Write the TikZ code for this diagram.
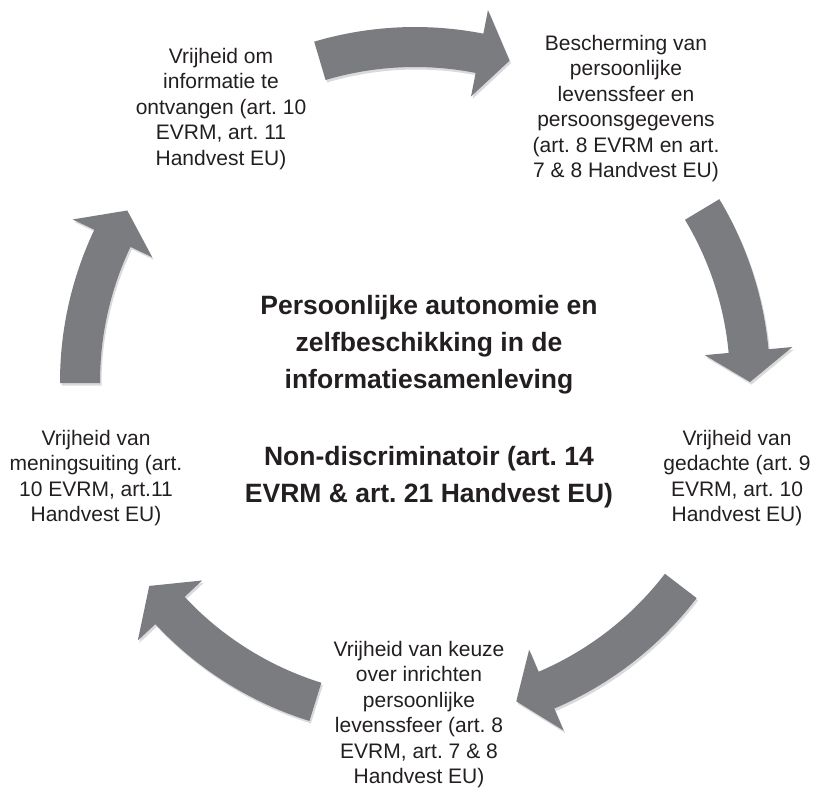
\documentclass[tikz,border=0pt]{standalone}
\usepackage{fontspec}
\setmainfont{Liberation Sans}
\frenchspacing
\definecolor{arrowgray}{RGB}{123,124,128}
\definecolor{shadowgray}{RGB}{218,218,220}
\definecolor{txt}{RGB}{35,31,32}
\newcommand{\cycarrowshape}[3]{(#1:355) arc[start angle=#1, end angle=#2, radius=355] -- (#2:379) -- (#3:335) -- (#2:291) -- (#2:315) arc[start angle=#2, end angle=#1, radius=315] -- cycle}
\newcommand{\cycarrow}[3]{%
  \fill[shadowgray, shift={(416.5,-384.5)}] \cycarrowshape{#1}{#2}{#3};
  \fill[arrowgray, shift={(415,-382)}] \cycarrowshape{#1}{#2}{#3};}
\begin{document}
\begin{tikzpicture}[x=1pt,y=1pt,
  lbl/.style={align=center, inner sep=0pt, anchor=base, text=txt, font=\fontsize{21}{25.5}\selectfont\frenchspacing},
  ttl/.style={align=center, inner sep=0pt, anchor=base, text=txt, font=\fontsize{26.5}{37}\selectfont\bfseries\frenchspacing}]
\useasboundingbox (0,0) rectangle (813,-788);
% arrows
\cycarrow{106.5}{78.9}{73.6}
\cycarrow{31}{5.3}{0}
\cycarrow{-37.5}{-66.9}{-72.4}
\cycarrow{-107.3}{-137}{-142.5}
\cycarrow{180.2}{154.6}{149.2}
% labels (anchored at the baseline of the last line)
\node[lbl] (t1) at (221,-165) {Vrijheid om\\informatie te\\ontvangen (art. 10\\EVRM, art. 11\\Handvest EU)};
\node[lbl] (t2) at (626,-177.5) {Bescherming van\\persoonlijke\\levenssfeer en\\persoonsgegevens\\(art. 8 EVRM en art.\\7 \& 8 Handvest EU)};
\node[lbl] (t3) at (737,-521.5) {Vrijheid van\\gedachte (art. 9\\EVRM, art. 10\\Handvest EU)};
\node[lbl] (t4) at (419,-783.5) {Vrijheid van keuze\\over inrichten\\persoonlijke\\levenssfeer (art. 8\\EVRM, art. 7 \& 8\\Handvest EU)};
\node[lbl] (t5) at (96,-521.5) {Vrijheid van\\meningsuiting (art.\\10 EVRM, art.11\\Handvest EU)};
\node[ttl] (c1) at (429,-388) {Persoonlijke autonomie en\\zelfbeschikking in de\\informatiesamenleving};
\node[ttl] (c2) at (429,-502) {Non-discriminatoir (art. 14\\EVRM \& art. 21 Handvest EU)};
\end{tikzpicture}
\end{document}
